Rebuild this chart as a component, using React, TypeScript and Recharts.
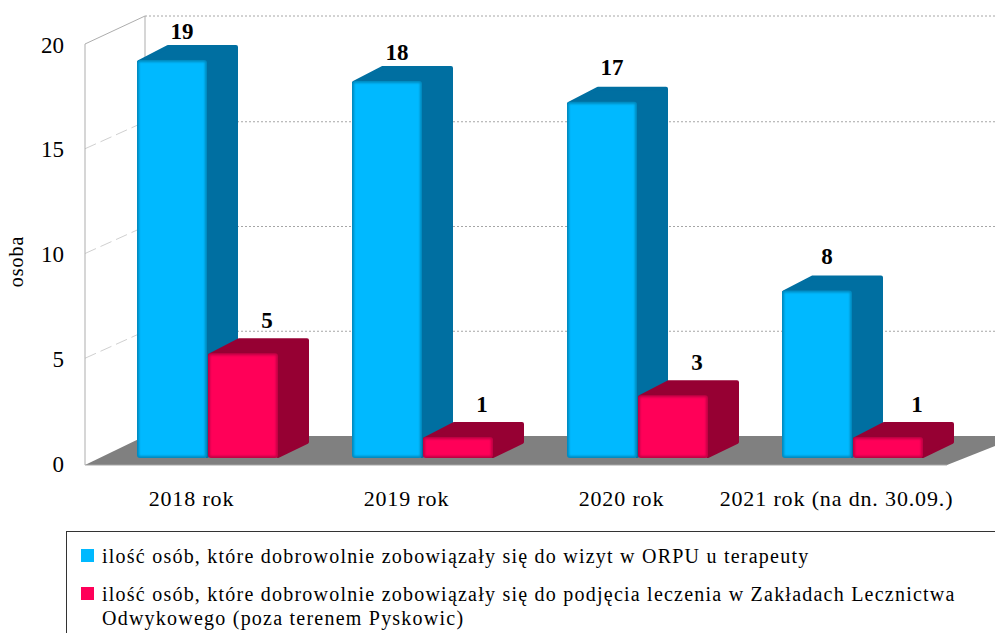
import React from "react";
import { BarChart, Bar, XAxis, YAxis, CartesianGrid, Legend } from "recharts";

const categories = ["2018 rok", "2019 rok", "2020 rok", "2021 rok (na dn. 30.09.)"];
const therapistVisits = [19, 18, 17, 8];
const addictionTreatment = [5, 1, 3, 1];
const valueTicks = [0, 5, 10, 15, 20];

const therapistName = "ilość osób, które dobrowolnie zobowiązały się do wizyt w ORPU u terapeuty";
const treatmentName =
  "ilość osób, które dobrowolnie zobowiązały się do podjęcia leczenia w Zakładach Lecznictwa Odwykowego (poza terenem Pyskowic)";

const chartData = categories.map((category, i) => ({
  category,
  therapist: therapistVisits[i],
  treatment: addictionTreatment[i],
}));

const FONT = '"Liberation Serif", serif';
const PLOT_TOP = 39;
const PLOT_BOTTOM = 458;
const DEPTH_X = 31;
const DEPTH_Y = 15;

// Draws the back wall, the side wall and the floor, one piece per grid line
function WallLine(props: any) {
  const { y1 } = props;
  const isFloor = Math.abs(y1 - PLOT_BOTTOM) < 1;
  const isTop = Math.abs(y1 - PLOT_TOP) < 1;
  if (isFloor) {
    return (
      <g>
        <polygon points="85,465 145,436 1020,436 947,465" fill="#808080" />
        <line x1={85} y1={465} x2={947} y2={465} stroke="#a6a6a6" strokeWidth={1} />
      </g>
    );
  }
  const front = y1 + 5;
  if (isTop) {
    const back = y1 - 23;
    return (
      <g>
        <polyline
          points={`85,465 85,${front} 145,${back} 145,436`}
          fill="none"
          stroke="#adadad"
          strokeWidth={1}
        />
        <line x1={145} y1={back} x2={995} y2={back} stroke="#a6a6a6" strokeDasharray="2 2" />
      </g>
    );
  }
  const back = y1 - 22;
  return (
    <g>
      <line x1={85} y1={front} x2={145} y2={back} stroke="#d0d0d0" strokeDasharray="12 5" />
      <line x1={145} y1={back} x2={995} y2={back} stroke="#a6a6a6" strokeDasharray="2 2" />
    </g>
  );
}

function makeBlock(front: string, edge: string, side: string, filterId: string) {
  return function Block(props: any) {
    const { x, y, width, height } = props;
    const right = x + width;
    const bottom = y + height;
    return (
      <g>
        <polygon
          points={`${x + 2},${y + 2} ${x + DEPTH_X},${y - DEPTH_Y + 2} ${right + DEPTH_X - 2},${y - DEPTH_Y + 2} ${right + DEPTH_X - 2},${bottom - DEPTH_Y - 1} ${right},${bottom - 2}`}
          fill={side}
          stroke={side}
          strokeWidth={4}
          strokeLinejoin="round"
        />
        <rect x={x} y={y} width={width} height={height} rx={3} fill={edge} />
        <rect
          x={x + 2}
          y={y + 2}
          width={width - 4}
          height={height - 4}
          fill={front}
          filter={`url(#${filterId})`}
        />
      </g>
    );
  };
}

const BlueBlock = makeBlock("#00b9ff", "#0088bd", "#006fa1", "soften");
const RedBlock = makeBlock("#ff0059", "#c00043", "#960033", "soften");

function ValueLabel(props: any) {
  const { x, y, width, value, shiftX, lift } = props;
  return (
    <text
      x={x + width / 2 + shiftX}
      y={y - lift}
      textAnchor="middle"
      dominantBaseline="central"
      fontFamily={FONT}
      fontWeight="bold"
      fontSize={23}
      fill="#000"
    >
      {value}
    </text>
  );
}

function CategoryTick(props: any) {
  const { x, y, payload } = props;
  return (
    <text
      x={x - 16}
      y={y}
      textAnchor="middle"
      dominantBaseline="central"
      fontFamily={FONT}
      fontSize={22}
      letterSpacing={0.85}
      fill="#000"
    >
      {payload.value}
    </text>
  );
}

function ValueTick(props: any) {
  const { y, payload } = props;
  return (
    <text
      x={64}
      y={y + 6}
      textAnchor="end"
      dominantBaseline="central"
      fontFamily={FONT}
      fontSize={23}
      fill="#000"
    >
      {payload.value}
    </text>
  );
}

function LegendBox(props: any) {
  const { payload } = props;
  return (
    <div
      style={{
        width: 929,
        height: 102,
        boxSizing: "border-box",
        borderLeft: "1px solid #333",
        borderTop: "1px solid #333",
        padding: "12px 0 0 14px",
        fontFamily: FONT,
        fontSize: 20,
        letterSpacing: 1.23,
        color: "#000",
      }}
    >
      {payload.map((entry: any) => (
        <div key={entry.value} style={{ display: "flex", lineHeight: "24px", marginBottom: 14 }}>
          <span
            style={{
              flex: "none",
              width: 13,
              height: 13,
              background: entry.color,
              marginTop: 5,
              marginRight: 8,
            }}
          />
          <span style={{ width: 880 }}>{entry.value}</span>
        </div>
      ))}
    </div>
  );
}

export default function App() {
  return (
    <div style={{ position: "absolute", left: 0, top: 0 }}>
      <BarChart
        width={995}
        height={633}
        data={chartData}
        barSize={70}
        barGap={1}
        margin={{ top: PLOT_TOP, right: 35, bottom: 125, left: 0 }}
      >
        <defs>
          <filter id="soften" x="-5%" y="-5%" width="110%" height="110%">
            <feGaussianBlur stdDeviation="1" />
          </filter>
        </defs>
        <CartesianGrid vertical={false} horizontal={(props: any) => <WallLine key={props.key} {...props} />} />
        <XAxis
          dataKey="category"
          axisLine={false}
          tickLine={false}
          height={50}
          tick={(props: any) => <CategoryTick {...props} y={498} />}
          interval={0}
        />
        <YAxis
          width={100}
          domain={[0, 20]}
          ticks={valueTicks}
          axisLine={false}
          tickLine={false}
          tick={(props: any) => <ValueTick {...props} />}
          label={{
            value: "osoba",
            angle: -90,
            position: "insideLeft",
            offset: 0,
            dx: 16,
            dy: 13,
            style: { fontFamily: FONT, fontSize: 20, letterSpacing: 1, fill: "#000", textAnchor: "middle" },
          }}
        />
        <Bar
          dataKey="therapist"
          name={therapistName}
          fill="#00b9ff"
          isAnimationActive={false}
          shape={BlueBlock}
          // the two tallest labels sit closer to their bars in the original
          label={(props: any) => <ValueLabel {...props} shiftX={10} lift={props.index < 2 ? 28 : 34} />}
        />
        <Bar
          dataKey="treatment"
          name={treatmentName}
          fill="#ff0059"
          isAnimationActive={false}
          shape={RedBlock}
          label={(props: any) => <ValueLabel {...props} shiftX={props.index === 3 ? 29 : 24} lift={33} />}
        />
        <Legend
          layout="horizontal"
          verticalAlign="middle"
          align="center"
          itemSorter={null}
          content={<LegendBox />}
          wrapperStyle={{ left: 66, top: 531, width: 929, height: 102, bottom: "auto", right: "auto", margin: 0 }}
        />
      </BarChart>
    </div>
  );
}
